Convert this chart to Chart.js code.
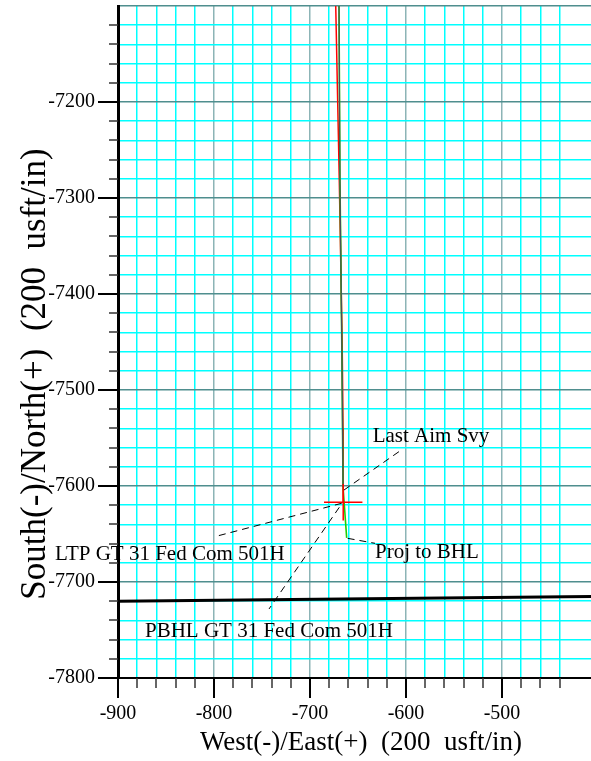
<!DOCTYPE html>
<html>
<head>
<meta charset="utf-8">
<script src="https://cdn.jsdelivr.net/npm/chart.js@4.4.1/dist/chart.umd.min.js"></script>
<style>
  html, body { margin: 0; padding: 0; background: #fff; }
  canvas { display: block; }
</style>
</head>
<body>
<canvas id="plot" width="591" height="761"></canvas>
<script>
// plan line (red), usft
const planEW = [-673.2, -669.5, -666.5, -665.6, -665.4];
const planNS = [-7100, -7281, -7450, -7540, -7617];

// surveys (dark) and projection to bit (green)
const svyEW = [-669.8, -668.8, -666.7, -665.6];
const svyNS = [-7100, -7281, -7469, -7601];
const projEW = [-665.6, -661.8];
const projNS = [-7601, -7654];

// LTP target cross
const crossEW = [-685.4, -645.4, -665.4, -665.4, -665.4];
const crossNS = [-7617, -7617, null, -7598, -7636];

// hard line near PBHL
const lineEW = [-900, -400];
const lineNS = [-7720, -7715];

// annotation leaders and labels
const labels = ['Last Aim Svy', 'LTP GT 31 Fed Com 501H', 'Proj to BHL', 'PBHL GT 31 Fed Com 501H'];
const leaderEW = [[-664.6, -606.3], [-667.0, -795.5], [-660.8, -632.3], [-669.5, -742.7]];
const leaderNS = [[-7604.2, -7563.5], [-7618.0, -7651.8], [-7654.5, -7659.7], [-7622.2, -7728.1]];
const labelEW = [-634.7, -965.6, -632.3, -871.9];
const labelNS = [-7554.2, -7677.1, -7675.0, -7757.3];

const xTitle = 'West(-)/East(+)  (200  usft/in)';
const yTitle = 'South(-)/North(+)  (200  usft/in)';

const SERIF = '"Liberation Serif", "Times New Roman", serif';

const pts = (xs, ys) => xs.map((x, i) => ({ x: x, y: ys[i] }));
const isStep = (v, s) => Math.abs(v % s) < 1e-6;

const leaderSets = leaderEW.map((xs, i) => ({
  data: pts(xs, leaderNS[i]),
  borderColor: '#000',
  borderWidth: 1,
  borderDash: [7, 5]
}));

// keep the plot area fixed: no automatic label padding
const fixBox = (w, h) => scale => {
  if (w) scale.width = w;
  if (h) scale.height = h;
  scale.paddingTop = 0;
  scale.paddingBottom = 0;
  scale.paddingLeft = 0;
  scale.paddingRight = 0;
};

const tickMarks = {
  id: 'tickMarks',
  afterDraw(chart) {
    const ctx = chart.ctx;
    const xs = chart.scales.x, ys = chart.scales.y;
    const area = chart.chartArea;
    ctx.save();
    xs.ticks.forEach(t => {
      if (!isStep(t.value, 20)) return;
      const major = isStep(t.value, 100);
      const px = Math.round(xs.getPixelForValue(t.value));
      ctx.beginPath();
      ctx.strokeStyle = major ? '#000' : '#333';
      ctx.lineWidth = major ? 2 : 1.5;
      ctx.moveTo(px, area.bottom);
      ctx.lineTo(px, area.bottom + (major ? 20 : 10));
      ctx.stroke();
    });
    ys.ticks.forEach(t => {
      if (!isStep(t.value, 20) || t.value >= -7100) return;
      const major = isStep(t.value, 100);
      const py = Math.round(ys.getPixelForValue(t.value));
      ctx.beginPath();
      ctx.strokeStyle = major ? '#000' : '#333';
      ctx.lineWidth = major ? 2 : 1.5;
      ctx.moveTo(area.left, py);
      ctx.lineTo(area.left - (major ? 20 : 9), py);
      ctx.stroke();
    });
    ctx.restore();
  }
};

const textLayer = {
  id: 'textLayer',
  afterDraw(chart) {
    const ctx = chart.ctx;
    const xs = chart.scales.x, ys = chart.scales.y;
    ctx.save();
    ctx.fillStyle = '#000';
    ctx.font = '21px ' + SERIF;
    ctx.textAlign = 'left';
    ctx.textBaseline = 'alphabetic';
    labels.forEach((s, i) => {
      ctx.fillText(s, xs.getPixelForValue(labelEW[i]), ys.getPixelForValue(labelNS[i]));
    });
    ctx.textAlign = 'center';
    ctx.textBaseline = 'middle';
    ctx.font = '27px ' + SERIF;
    ctx.fillText(xTitle, 361, 743);
    ctx.translate(36, 374);
    ctx.rotate(-Math.PI / 2);
    ctx.font = '35px ' + SERIF;
    ctx.fillText(yTitle, 0, 0);
    ctx.restore();
  }
};

new Chart(document.getElementById('plot'), {
  type: 'line',
  data: {
    datasets: [
      ...leaderSets,
      { data: pts(crossEW, crossNS), borderColor: '#ff0000', borderWidth: 1.5, spanGaps: false },
      { data: pts(svyEW, svyNS), borderColor: '#4a4f5a', borderWidth: 1.2 },
      { data: pts(svyEW.concat(projEW.slice(1)), svyNS.concat(projNS.slice(1))), borderColor: '#22cc00', borderWidth: 1.6 },
      { data: pts(planEW, planNS), borderColor: '#ff0000', borderWidth: 1.5 },
      { data: pts(lineEW, lineNS), borderColor: '#000', borderWidth: 3 }
    ]
  },
  options: {
    responsive: false,
    animation: false,
    layout: { padding: { top: 6, left: 0, right: 0, bottom: 0 } },
    elements: { point: { radius: 0 }, line: { tension: 0 } },
    plugins: { legend: { display: false }, tooltip: { enabled: false } },
    scales: {
      x: {
        type: 'linear',
        min: -900,
        max: -407.3,
        afterFit: fixBox(0, 83),
        border: { color: '#000', width: 2 },
        grid: {
          drawTicks: false,
          lineWidth: 1.5,
          color: c => !isStep(c.tick.value, 20) ? 'rgba(0,0,0,0)' : (isStep(c.tick.value, 100) ? '#8cb4b6' : '#00ffff')
        },
        ticks: {
          stepSize: 20,
          autoSkip: false,
          maxRotation: 0,
          padding: 24,
          color: '#000',
          font: { family: SERIF, size: 20 },
          callback: v => isStep(v, 100) ? String(v) : ''
        }
      },
      y: {
        type: 'linear',
        min: -7800,
        max: -7100,
        afterFit: fixBox(118, 0),
        border: { color: '#000', width: 3 },
        grid: {
          drawTicks: false,
          lineWidth: 1.5,
          color: c => isStep(c.tick.value, 100) ? '#4f8e8e' : '#00ffff'
        },
        ticks: {
          stepSize: 20,
          autoSkip: false,
          padding: 23,
          color: '#000',
          font: { family: SERIF, size: 20 },
          callback: v => (isStep(v, 100) && v < -7100) ? String(v) : ''
        }
      }
    }
  },
  plugins: [tickMarks, textLayer]
});
</script>
</body>
</html>
